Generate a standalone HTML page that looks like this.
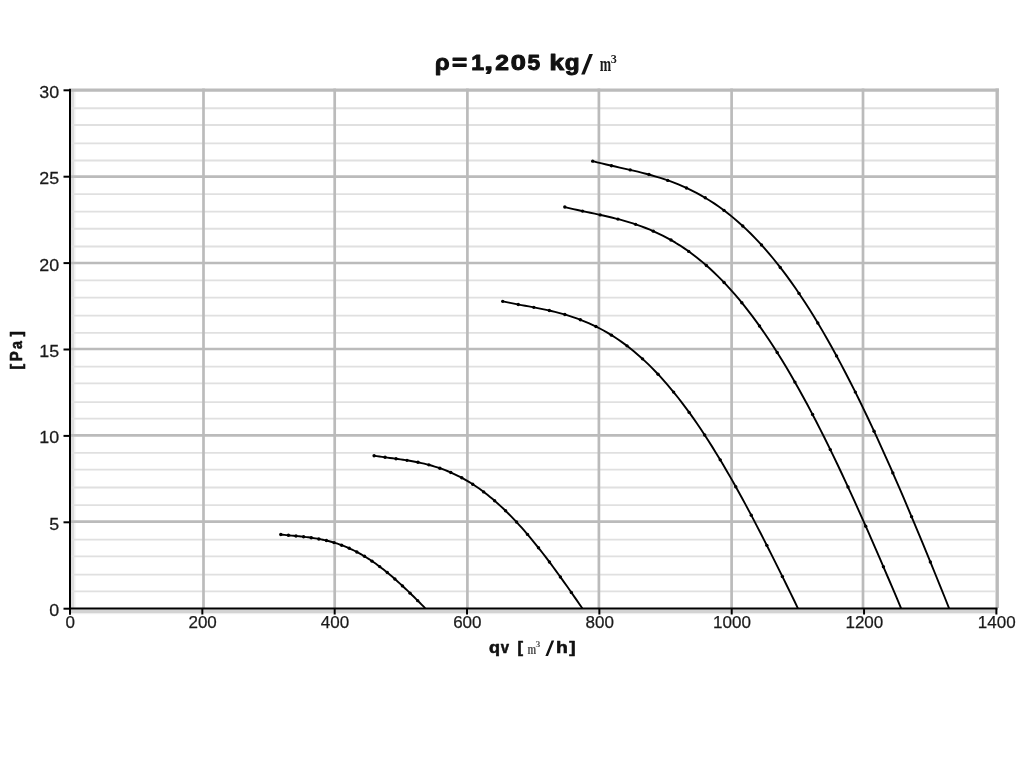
<!DOCTYPE html>
<html><head><meta charset="utf-8"><style>
html,body{margin:0;padding:0;background:#fff;width:1024px;height:768px;overflow:hidden}
svg{display:block;filter:blur(0.3px)}
</style></head><body>
<svg width="1024" height="768" viewBox="0 0 1024 768">
<rect width="1024" height="768" fill="#fff"/>
<rect x="71" y="89" width="3" height="520" fill="#dedede"/>
<rect x="74" y="89" width="1.5" height="520" fill="#f2f2f2"/>
<rect x="70" y="609.4" width="927" height="3.6" fill="#d3d3d3"/>
<rect x="70" y="613" width="927" height="1.2" fill="#eeeeee"/>
<g stroke="#e0e0e0" stroke-width="1.8"><line x1="71" x2="995" y1="108.25" y2="108.25"/><line x1="71" x2="995" y1="125.00" y2="125.00"/><line x1="71" x2="995" y1="143.40" y2="143.40"/><line x1="71" x2="995" y1="160.50" y2="160.50"/><line x1="71" x2="995" y1="194.20" y2="194.20"/><line x1="71" x2="995" y1="211.60" y2="211.60"/><line x1="71" x2="995" y1="228.75" y2="228.75"/><line x1="71" x2="995" y1="246.50" y2="246.50"/><line x1="71" x2="995" y1="280.40" y2="280.40"/><line x1="71" x2="995" y1="297.60" y2="297.60"/><line x1="71" x2="995" y1="315.60" y2="315.60"/><line x1="71" x2="995" y1="332.80" y2="332.80"/><line x1="71" x2="995" y1="366.60" y2="366.60"/><line x1="71" x2="995" y1="383.40" y2="383.40"/><line x1="71" x2="995" y1="402.20" y2="402.20"/><line x1="71" x2="995" y1="418.70" y2="418.70"/><line x1="71" x2="995" y1="452.80" y2="452.80"/><line x1="71" x2="995" y1="469.70" y2="469.70"/><line x1="71" x2="995" y1="487.50" y2="487.50"/><line x1="71" x2="995" y1="505.10" y2="505.10"/><line x1="71" x2="995" y1="539.60" y2="539.60"/><line x1="71" x2="995" y1="556.33" y2="556.33"/><line x1="71" x2="995" y1="574.56" y2="574.56"/><line x1="71" x2="995" y1="591.47" y2="591.47"/></g>
<g stroke="#bbbbbb" stroke-width="2.7"><line x1="71" x2="998.9" y1="176.60" y2="176.60"/><line x1="71" x2="998.9" y1="263.00" y2="263.00"/><line x1="71" x2="998.9" y1="349.00" y2="349.00"/><line x1="71" x2="998.9" y1="435.30" y2="435.30"/><line x1="71" x2="998.9" y1="521.70" y2="521.70"/><line x1="71" x2="998.9" y1="90.1" y2="90.1" stroke-width="3.2"/><line y1="88.6" y2="608" x1="203.50" x2="203.50"/><line y1="88.6" y2="608" x1="334.70" x2="334.70"/><line y1="88.6" y2="608" x1="467.40" x2="467.40"/><line y1="88.6" y2="608" x1="598.90" x2="598.90"/><line y1="88.6" y2="608" x1="731.60" x2="731.60"/><line y1="88.6" y2="608" x1="863.00" x2="863.00"/><line y1="88.4" y2="608" x1="997.2" x2="997.2" stroke-width="3.4"/></g>
<g stroke="#000" stroke-width="2" fill="none">
<line x1="70" y1="88.8" x2="70" y2="614.5"/>
<line x1="69" y1="608.5" x2="997.5" y2="608.5"/>
<line x1="63.5" x2="70" y1="608.70" y2="608.70"/><line x1="63.5" x2="70" y1="522.30" y2="522.30"/><line x1="63.5" x2="70" y1="435.90" y2="435.90"/><line x1="63.5" x2="70" y1="349.50" y2="349.50"/><line x1="63.5" x2="70" y1="263.10" y2="263.10"/><line x1="63.5" x2="70" y1="176.70" y2="176.70"/><line x1="63.5" x2="70" y1="90.30" y2="90.30"/><line y1="608.5" y2="614.5" x1="70.00" x2="70.00"/><line y1="608.5" y2="614.5" x1="202.34" x2="202.34"/><line y1="608.5" y2="614.5" x1="334.68" x2="334.68"/><line y1="608.5" y2="614.5" x1="467.03" x2="467.03"/><line y1="608.5" y2="614.5" x1="599.37" x2="599.37"/><line y1="608.5" y2="614.5" x1="731.71" x2="731.71"/><line y1="608.5" y2="614.5" x1="864.05" x2="864.05"/><line y1="608.5" y2="614.5" x1="996.39" x2="996.39"/>
</g>
<g stroke="#000" stroke-width="1.9" fill="none" stroke-linejoin="round">
<path d="M280.80,534.53 L282.63,534.72 L284.46,534.91 L286.29,535.09 L288.12,535.26 L289.95,535.43 L291.77,535.60 L293.60,535.76 L295.43,535.93 L297.26,536.10 L299.09,536.28 L300.92,536.46 L302.75,536.66 L304.58,536.86 L306.41,537.07 L308.24,537.30 L310.07,537.54 L311.89,537.80 L313.72,538.07 L315.55,538.36 L317.38,538.67 L319.21,539.01 L321.04,539.36 L322.87,539.74 L324.70,540.14 L326.53,540.57 L328.36,541.02 L330.19,541.51 L332.02,542.01 L333.84,542.55 L335.67,543.12 L337.50,543.71 L339.33,544.34 L341.16,545.00 L342.99,545.69 L344.82,546.41 L346.65,547.16 L348.48,547.95 L350.31,548.77 L352.14,549.63 L353.96,550.52 L355.79,551.44 L357.62,552.39 L359.45,553.38 L361.28,554.41 L363.11,555.47 L364.94,556.56 L366.77,557.69 L368.60,558.85 L370.43,560.04 L372.26,561.27 L374.08,562.53 L375.91,563.82 L377.74,565.15 L379.57,566.51 L381.40,567.89 L383.23,569.31 L385.06,570.76 L386.89,572.24 L388.72,573.74 L390.55,575.28 L392.38,576.84 L394.21,578.43 L396.03,580.04 L397.86,581.67 L399.69,583.33 L401.52,585.01 L403.35,586.71 L405.18,588.44 L407.01,590.18 L408.84,591.93 L410.67,593.70 L412.50,595.49 L414.33,597.29 L416.15,599.10 L417.98,600.92 L419.81,602.75 L421.64,604.59 L423.47,606.43 L425.30,608.30"/><path d="M374.10,455.75 L376.74,456.15 L379.37,456.54 L382.01,456.91 L384.64,457.26 L387.28,457.61 L389.91,457.96 L392.55,458.30 L395.18,458.65 L397.82,459.00 L400.45,459.37 L403.09,459.75 L405.73,460.15 L408.36,460.56 L411.00,461.01 L413.63,461.48 L416.27,461.97 L418.90,462.51 L421.54,463.08 L424.17,463.68 L426.81,464.33 L429.44,465.02 L432.08,465.76 L434.72,466.54 L437.35,467.37 L439.99,468.26 L442.62,469.20 L445.26,470.20 L447.89,471.25 L450.53,472.36 L453.16,473.53 L455.80,474.77 L458.43,476.07 L461.07,477.43 L463.71,478.86 L466.34,480.35 L468.98,481.91 L471.61,483.54 L474.25,485.24 L476.88,487.01 L479.52,488.84 L482.15,490.75 L484.79,492.73 L487.42,494.78 L490.06,496.90 L492.69,499.09 L495.33,501.35 L497.97,503.68 L500.60,506.08 L503.24,508.55 L505.87,511.09 L508.51,513.70 L511.14,516.37 L513.78,519.11 L516.41,521.91 L519.05,524.78 L521.68,527.72 L524.32,530.71 L526.96,533.77 L529.59,536.88 L532.23,540.05 L534.86,543.28 L537.50,546.56 L540.13,549.89 L542.77,553.27 L545.40,556.70 L548.04,560.17 L550.67,563.69 L553.31,567.25 L555.95,570.84 L558.58,574.47 L561.22,578.14 L563.85,581.83 L566.49,585.55 L569.12,589.29 L571.76,593.06 L574.39,596.84 L577.03,600.63 L579.66,604.44 L582.30,608.30"/><path d="M502.70,301.34 L506.44,302.15 L510.17,302.91 L513.91,303.65 L517.65,304.36 L521.38,305.06 L525.12,305.75 L528.86,306.44 L532.59,307.14 L536.33,307.86 L540.07,308.60 L543.80,309.37 L547.54,310.17 L551.28,311.02 L555.01,311.91 L558.75,312.86 L562.49,313.87 L566.22,314.95 L569.96,316.10 L573.70,317.33 L577.43,318.64 L581.17,320.04 L584.91,321.53 L588.64,323.12 L592.38,324.80 L596.12,326.60 L599.85,328.50 L603.59,330.51 L607.33,332.64 L611.06,334.88 L614.80,337.25 L618.54,339.75 L622.27,342.37 L626.01,345.12 L629.75,348.00 L633.48,351.01 L637.22,354.16 L640.96,357.45 L644.69,360.87 L648.43,364.43 L652.17,368.14 L655.91,371.98 L659.64,375.97 L663.38,380.09 L667.12,384.36 L670.85,388.77 L674.59,393.32 L678.33,398.01 L682.06,402.84 L685.80,407.81 L689.54,412.92 L693.27,418.17 L697.01,423.54 L700.75,429.06 L704.48,434.70 L708.22,440.47 L711.96,446.37 L715.69,452.39 L719.43,458.53 L723.17,464.79 L726.90,471.16 L730.64,477.65 L734.38,484.24 L738.11,490.94 L741.85,497.73 L745.59,504.62 L749.32,511.61 L753.06,518.67 L756.80,525.82 L760.53,533.05 L764.27,540.34 L768.01,547.70 L771.74,555.12 L775.48,562.59 L779.22,570.11 L782.95,577.67 L786.69,585.27 L790.43,592.89 L794.16,600.54 L797.90,608.30"/><path d="M564.80,207.06 L569.06,208.10 L573.31,209.10 L577.57,210.05 L581.83,210.98 L586.08,211.89 L590.34,212.79 L594.60,213.69 L598.86,214.61 L603.11,215.54 L607.37,216.51 L611.63,217.52 L615.88,218.58 L620.14,219.69 L624.40,220.87 L628.65,222.12 L632.91,223.45 L637.17,224.87 L641.43,226.39 L645.68,228.01 L649.94,229.73 L654.20,231.57 L658.45,233.53 L662.71,235.62 L666.97,237.84 L671.22,240.19 L675.48,242.69 L679.74,245.33 L683.99,248.13 L688.25,251.08 L692.51,254.18 L696.77,257.45 L701.02,260.89 L705.28,264.50 L709.54,268.27 L713.79,272.22 L718.05,276.35 L722.31,280.65 L726.56,285.14 L730.82,289.80 L735.08,294.65 L739.34,299.69 L743.59,304.90 L747.85,310.30 L752.11,315.88 L756.36,321.65 L760.62,327.60 L764.88,333.74 L769.13,340.06 L773.39,346.55 L777.65,353.23 L781.91,360.08 L786.16,367.11 L790.42,374.32 L794.68,381.69 L798.93,389.23 L803.19,396.93 L807.45,404.80 L811.70,412.82 L815.96,420.99 L820.22,429.32 L824.47,437.78 L828.73,446.39 L832.99,455.13 L837.25,464.01 L841.50,473.00 L845.76,482.11 L850.02,491.34 L854.27,500.67 L858.53,510.10 L862.79,519.62 L867.04,529.22 L871.30,538.91 L875.56,548.66 L879.82,558.47 L884.07,568.34 L888.33,578.25 L892.59,588.20 L896.84,598.17 L901.10,608.30"/><path d="M592.70,161.13 L597.21,162.31 L601.72,163.43 L606.23,164.50 L610.75,165.54 L615.26,166.55 L619.77,167.56 L624.28,168.57 L628.79,169.59 L633.30,170.63 L637.81,171.70 L642.33,172.82 L646.84,174.00 L651.35,175.23 L655.86,176.54 L660.37,177.92 L664.88,179.40 L669.39,180.97 L673.91,182.65 L678.42,184.44 L682.93,186.35 L687.44,188.39 L691.95,190.56 L696.46,192.88 L700.97,195.34 L705.48,197.95 L710.00,200.72 L714.51,203.65 L719.02,206.76 L723.53,210.03 L728.04,213.48 L732.55,217.12 L737.06,220.94 L741.58,224.94 L746.09,229.14 L750.60,233.53 L755.11,238.12 L759.62,242.91 L764.13,247.90 L768.64,253.09 L773.16,258.49 L777.67,264.09 L782.18,269.90 L786.69,275.91 L791.20,282.13 L795.71,288.55 L800.22,295.18 L804.74,302.02 L809.25,309.06 L813.76,316.30 L818.27,323.74 L822.78,331.38 L827.29,339.21 L831.80,347.24 L836.32,355.46 L840.83,363.87 L845.34,372.46 L849.85,381.23 L854.36,390.17 L858.87,399.29 L863.38,408.57 L867.89,418.02 L872.41,427.62 L876.92,437.37 L881.43,447.27 L885.94,457.31 L890.45,467.48 L894.96,477.77 L899.47,488.18 L903.99,498.70 L908.50,509.33 L913.01,520.05 L917.52,530.85 L922.03,541.73 L926.54,552.69 L931.05,563.70 L935.57,574.76 L940.08,585.86 L944.59,596.99 L949.10,608.30"/>
</g>
<g fill="#000"><circle cx="280.80" cy="534.53" r="1.7"/><circle cx="288.41" cy="535.29" r="1.7"/><circle cx="296.01" cy="535.99" r="1.7"/><circle cx="303.62" cy="536.75" r="1.7"/><circle cx="311.22" cy="537.70" r="1.7"/><circle cx="318.83" cy="538.94" r="1.7"/><circle cx="326.43" cy="540.55" r="1.7"/><circle cx="334.04" cy="542.61" r="1.7"/><circle cx="341.64" cy="545.18" r="1.7"/><circle cx="349.25" cy="548.29" r="1.7"/><circle cx="356.85" cy="551.99" r="1.7"/><circle cx="364.46" cy="556.27" r="1.7"/><circle cx="372.06" cy="561.14" r="1.7"/><circle cx="379.67" cy="566.58" r="1.7"/><circle cx="387.27" cy="572.55" r="1.7"/><circle cx="394.88" cy="579.02" r="1.7"/><circle cx="402.48" cy="585.91" r="1.7"/><circle cx="410.09" cy="593.14" r="1.7"/><circle cx="417.69" cy="600.64" r="1.7"/><circle cx="374.10" cy="455.75" r="1.7"/><circle cx="385.06" cy="457.32" r="1.7"/><circle cx="396.02" cy="458.76" r="1.7"/><circle cx="406.97" cy="460.34" r="1.7"/><circle cx="417.93" cy="462.31" r="1.7"/><circle cx="428.89" cy="464.87" r="1.7"/><circle cx="439.85" cy="468.21" r="1.7"/><circle cx="450.81" cy="472.48" r="1.7"/><circle cx="461.76" cy="477.80" r="1.7"/><circle cx="472.72" cy="484.25" r="1.7"/><circle cx="483.68" cy="491.89" r="1.7"/><circle cx="494.64" cy="500.75" r="1.7"/><circle cx="505.59" cy="510.82" r="1.7"/><circle cx="516.55" cy="522.06" r="1.7"/><circle cx="527.51" cy="534.42" r="1.7"/><circle cx="538.47" cy="547.78" r="1.7"/><circle cx="549.43" cy="562.02" r="1.7"/><circle cx="560.38" cy="576.98" r="1.7"/><circle cx="571.34" cy="592.46" r="1.7"/><circle cx="502.70" cy="301.34" r="1.7"/><circle cx="518.24" cy="304.47" r="1.7"/><circle cx="533.77" cy="307.37" r="1.7"/><circle cx="549.31" cy="310.56" r="1.7"/><circle cx="564.85" cy="314.55" r="1.7"/><circle cx="580.38" cy="319.74" r="1.7"/><circle cx="595.92" cy="326.50" r="1.7"/><circle cx="611.46" cy="335.13" r="1.7"/><circle cx="626.99" cy="345.86" r="1.7"/><circle cx="642.53" cy="358.87" r="1.7"/><circle cx="658.07" cy="374.27" r="1.7"/><circle cx="673.61" cy="392.11" r="1.7"/><circle cx="689.14" cy="412.38" r="1.7"/><circle cx="704.68" cy="435.00" r="1.7"/><circle cx="720.22" cy="459.84" r="1.7"/><circle cx="735.75" cy="486.70" r="1.7"/><circle cx="751.29" cy="515.32" r="1.7"/><circle cx="766.83" cy="545.37" r="1.7"/><circle cx="782.36" cy="576.48" r="1.7"/><circle cx="564.80" cy="207.06" r="1.7"/><circle cx="582.50" cy="211.12" r="1.7"/><circle cx="600.20" cy="214.90" r="1.7"/><circle cx="617.90" cy="219.10" r="1.7"/><circle cx="635.60" cy="224.34" r="1.7"/><circle cx="653.30" cy="231.17" r="1.7"/><circle cx="671.00" cy="240.06" r="1.7"/><circle cx="688.70" cy="251.40" r="1.7"/><circle cx="706.40" cy="265.47" r="1.7"/><circle cx="724.10" cy="282.52" r="1.7"/><circle cx="741.80" cy="302.68" r="1.7"/><circle cx="759.50" cy="326.02" r="1.7"/><circle cx="777.20" cy="352.52" r="1.7"/><circle cx="794.90" cy="382.08" r="1.7"/><circle cx="812.60" cy="414.53" r="1.7"/><circle cx="830.30" cy="449.60" r="1.7"/><circle cx="848.00" cy="486.96" r="1.7"/><circle cx="865.70" cy="526.18" r="1.7"/><circle cx="883.40" cy="566.78" r="1.7"/><circle cx="592.70" cy="161.13" r="1.7"/><circle cx="611.46" cy="165.70" r="1.7"/><circle cx="630.22" cy="169.91" r="1.7"/><circle cx="648.97" cy="174.57" r="1.7"/><circle cx="667.73" cy="180.38" r="1.7"/><circle cx="686.49" cy="187.95" r="1.7"/><circle cx="705.25" cy="197.81" r="1.7"/><circle cx="724.01" cy="210.39" r="1.7"/><circle cx="742.76" cy="226.03" r="1.7"/><circle cx="761.52" cy="244.99" r="1.7"/><circle cx="780.28" cy="267.43" r="1.7"/><circle cx="799.04" cy="293.42" r="1.7"/><circle cx="817.79" cy="322.94" r="1.7"/><circle cx="836.55" cy="355.90" r="1.7"/><circle cx="855.31" cy="392.08" r="1.7"/><circle cx="874.07" cy="431.20" r="1.7"/><circle cx="892.83" cy="472.88" r="1.7"/><circle cx="911.58" cy="516.65" r="1.7"/><circle cx="930.34" cy="561.96" r="1.7"/></g>
<g font-family="Liberation Sans" font-size="17" fill="#1a1a1a" stroke="#1a1a1a" stroke-width="0.25"><text transform="translate(59.2,616.20) scale(1.05,1)" text-anchor="end">0</text><text transform="translate(59.2,529.80) scale(1.05,1)" text-anchor="end">5</text><text transform="translate(59.2,443.40) scale(1.05,1)" text-anchor="end">10</text><text transform="translate(59.2,357.00) scale(1.05,1)" text-anchor="end">15</text><text transform="translate(59.2,270.60) scale(1.05,1)" text-anchor="end">20</text><text transform="translate(59.2,184.20) scale(1.05,1)" text-anchor="end">25</text><text transform="translate(59.2,97.80) scale(1.05,1)" text-anchor="end">30</text><text x="70.30" y="628" text-anchor="middle">0</text><text x="202.64" y="628" text-anchor="middle">200</text><text x="334.98" y="628" text-anchor="middle">400</text><text x="467.33" y="628" text-anchor="middle">600</text><text x="599.67" y="628" text-anchor="middle">800</text><text x="732.01" y="628" text-anchor="middle">1000</text><text x="864.35" y="628" text-anchor="middle">1200</text><text x="996.69" y="628" text-anchor="middle">1400</text></g>
<text transform="translate(434.99,70.10) scale(1.089,1)" font-family="Liberation Sans" font-weight="bold" font-size="21.55" fill="#111" stroke="#111" stroke-width="1.0" stroke-linejoin="round">ρ</text><text transform="translate(452.09,70.10) scale(1.206,1)" font-family="Liberation Sans" font-weight="bold" font-size="21.55" fill="#111" stroke="#111" stroke-width="1.0" stroke-linejoin="round">=</text><text transform="translate(471.26,70.10) scale(1.068,1)" font-family="Liberation Sans" font-weight="bold" font-size="21.55" fill="#111" stroke="#111" stroke-width="1.0" stroke-linejoin="round">1</text><text transform="translate(484.20,70.10) scale(1.458,1)" font-family="Liberation Sans" font-weight="bold" font-size="21.55" fill="#111" stroke="#111" stroke-width="1.0" stroke-linejoin="round">,</text><text transform="translate(495.14,70.10) scale(1.141,1)" font-family="Liberation Sans" font-weight="bold" font-size="21.55" fill="#111" stroke="#111" stroke-width="1.0" stroke-linejoin="round">2</text><text transform="translate(510.81,70.10) scale(1.260,1)" font-family="Liberation Sans" font-weight="bold" font-size="21.55" fill="#111" stroke="#111" stroke-width="1.0" stroke-linejoin="round">0</text><text transform="translate(527.62,70.10) scale(1.054,1)" font-family="Liberation Sans" font-weight="bold" font-size="21.55" fill="#111" stroke="#111" stroke-width="1.0" stroke-linejoin="round">5</text><text transform="translate(549.56,70.10) scale(1.218,1)" font-family="Liberation Sans" font-weight="bold" font-size="21.55" fill="#111" stroke="#111" stroke-width="1.0" stroke-linejoin="round">k</text><text transform="translate(564.83,70.10) scale(1.130,1)" font-family="Liberation Sans" font-weight="bold" font-size="21.55" fill="#111" stroke="#111" stroke-width="1.0" stroke-linejoin="round">g</text><polygon points="589.3,53.9 592.9,53.9 584.7,74.4 581.2,74.4" fill="#111"/><polygon points="551.6,640.4 554.2,640.4 548.0,656.0 545.4,656.0" fill="#111"/><text transform="translate(599.72,71.30) scale(0.638,1)" font-family="Liberation Serif" font-weight="bold" font-size="21.49" fill="#1a1a1a">m</text><text transform="translate(610.84,62.77) scale(0.930,1)" font-family="Liberation Serif" font-weight="bold" font-size="13.09" fill="#1a1a1a">3</text><text transform="translate(488.98,653.30) scale(1.077,1)" font-family="Liberation Sans" font-weight="bold" font-size="16.73" fill="#111" stroke="#111" stroke-width="0.6" stroke-linejoin="round">q</text><text transform="translate(500.83,653.30) scale(0.895,1)" font-family="Liberation Sans" font-weight="bold" font-size="16.73" fill="#111" stroke="#111" stroke-width="0.6" stroke-linejoin="round">v</text><text transform="translate(517.59,653.30) scale(0.992,1)" font-family="Liberation Sans" font-weight="bold" font-size="16.73" fill="#111" stroke="#111" stroke-width="0.6" stroke-linejoin="round">[</text><text transform="translate(556.04,653.30) scale(1.158,1)" font-family="Liberation Sans" font-weight="bold" font-size="16.73" fill="#111" stroke="#111" stroke-width="0.6" stroke-linejoin="round">h</text><text transform="translate(569.36,653.30) scale(1.128,1)" font-family="Liberation Sans" font-weight="bold" font-size="16.73" fill="#111" stroke="#111" stroke-width="0.6" stroke-linejoin="round">]</text><text transform="translate(527.41,653.60) scale(0.689,1)" font-family="Liberation Serif" font-weight="bold" font-size="15.11" fill="#555">m</text><text transform="translate(535.53,647.21) scale(1.066,1)" font-family="Liberation Serif" font-weight="bold" font-size="9.22" fill="#555">3</text>
<g transform="rotate(-90)"><text transform="translate(-369.65,21.60) scale(1.076,1)" font-family="Liberation Sans" font-weight="bold" font-size="16.13" fill="#111" stroke="#111" stroke-width="0.6" stroke-linejoin="round">[</text><text transform="translate(-361.22,21.60) scale(0.933,1)" font-family="Liberation Sans" font-weight="bold" font-size="16.13" fill="#111" stroke="#111" stroke-width="0.6" stroke-linejoin="round">P</text><text transform="translate(-348.93,21.60) scale(0.885,1)" font-family="Liberation Sans" font-weight="bold" font-size="16.13" fill="#111" stroke="#111" stroke-width="0.6" stroke-linejoin="round">a</text><text transform="translate(-336.60,21.60) scale(0.983,1)" font-family="Liberation Sans" font-weight="bold" font-size="16.13" fill="#111" stroke="#111" stroke-width="0.6" stroke-linejoin="round">]</text></g>
</svg>
</body></html>
